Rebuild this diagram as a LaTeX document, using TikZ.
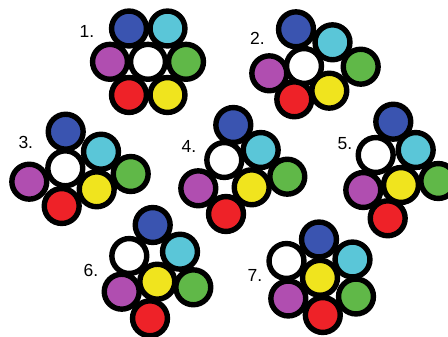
\documentclass[tikz,border=0pt]{standalone}
\usepackage{fontspec}
\setmainfont{Liberation Sans}
\definecolor{cblue}{RGB}{58,84,176}
\definecolor{ccyan}{RGB}{90,198,216}
\definecolor{cmag}{RGB}{176,78,176}
\definecolor{cgreen}{RGB}{96,184,72}
\definecolor{cred}{RGB}{238,34,40}
\definecolor{cyel}{RGB}{240,228,30}
\begin{document}
\begin{tikzpicture}[x=1pt,y=-1pt,
  ball/.style={circle,draw=black,line width=5.4pt,minimum size=34.9pt,inner sep=0pt,fill=#1},
  lab/.style={font=\fontsize{17.5}{17.5}\selectfont,inner sep=0pt}]
\useasboundingbox (0,0) rectangle (448,337);
% 1
\node[ball=cblue]  (b1) at (129,28.5) {};
\node[ball=ccyan]  (c1) at (167.5,28.5) {};
\node[ball=cmag]   (m1) at (110,61.8) {};
\node[ball=white]  (w1) at (148,61.8) {};
\node[ball=cgreen] (g1) at (186,61.8) {};
\node[ball=cred]   (r1) at (129,95) {};
\node[ball=cyel]   (y1) at (167.5,95) {};
\node[lab] (l1) at (87,31.5) {1.};
% 2
\node[ball=cblue]  (b2) at (296,29.3) {};
\node[ball=ccyan]  (c2) at (332.5,42.3) {};
\node[ball=cmag]   (m2) at (269.3,73.3) {};
\node[ball=white]  (w2) at (304,66) {};
\node[ball=cgreen] (g2) at (360.7,66.7) {};
\node[ball=cred]   (r2) at (294.3,99.3) {};
\node[ball=cyel]   (y2) at (329.3,90.7) {};
\node[lab] (l2) at (257.5,38.5) {2.};
% 3
\node[ball=cblue]  (b3) at (65.7,131.7) {};
\node[ball=ccyan]  (c3) at (101,151.7) {};
\node[ball=white]  (w3) at (65.3,168.3) {};
\node[ball=cgreen] (g3) at (130.7,174) {};
\node[ball=cmag]   (m3) at (29.3,181.7) {};
\node[ball=cyel]   (y3) at (96.7,189.3) {};
\node[ball=cred]   (r3) at (61.7,206) {};
\node[lab] (l3) at (25.8,142.5) {3.};
% 4
\node[ball=cblue]  (b4) at (233.3,125) {};
\node[ball=ccyan]  (c4) at (260.7,150) {};
\node[ball=white]  (w4) at (224.3,160) {};
\node[ball=cgreen] (g4) at (287.3,176.7) {};
\node[ball=cmag]   (m4) at (198.3,188.3) {};
\node[ball=cyel]   (y4) at (251.7,187.3) {};
\node[ball=cred]   (r4) at (226,214) {};
\node[lab] (l4) at (189,146.3) {4.};
% 5
\node[ball=cblue]  (b5) at (393.3,121.7) {};
\node[ball=white]  (w5) at (375.7,155) {};
\node[ball=ccyan]  (c5) at (415.7,150) {};
\node[ball=cgreen] (g5) at (438.3,181) {};
\node[ball=cmag]   (m5) at (363.3,190) {};
\node[ball=cyel]   (y5) at (401,185) {};
\node[ball=cred]   (r5) at (387.7,218.3) {};
\node[lab] (l5) at (345,144) {5.};
% 6
\node[ball=cblue]  (b6) at (152.7,225) {};
\node[ball=white]  (w6) at (129.3,256) {};
\node[ball=ccyan]  (c6) at (180,251.7) {};
\node[ball=cyel]   (y6) at (157.3,281.7) {};
\node[ball=cmag]   (m6) at (121.7,291.7) {};
\node[ball=cgreen] (g6) at (193.3,287.3) {};
\node[ball=cred]   (r6) at (150,318.3) {};
\node[lab] (l6) at (91,270) {6.};
% 7
\node[ball=cblue]  (b7) at (319,239.5) {};
\node[ball=white]  (w7) at (286.5,261) {};
\node[ball=ccyan]  (c7) at (352.5,259.5) {};
\node[ball=cyel]   (y7) at (320,277.8) {};
\node[ball=cmag]   (m7) at (288.3,298.5) {};
\node[ball=cgreen] (g7) at (356,296.5) {};
\node[ball=cred]   (r7) at (322.8,315) {};
\node[lab] (l7) at (255,275.5) {7.};
\end{tikzpicture}
\end{document}
